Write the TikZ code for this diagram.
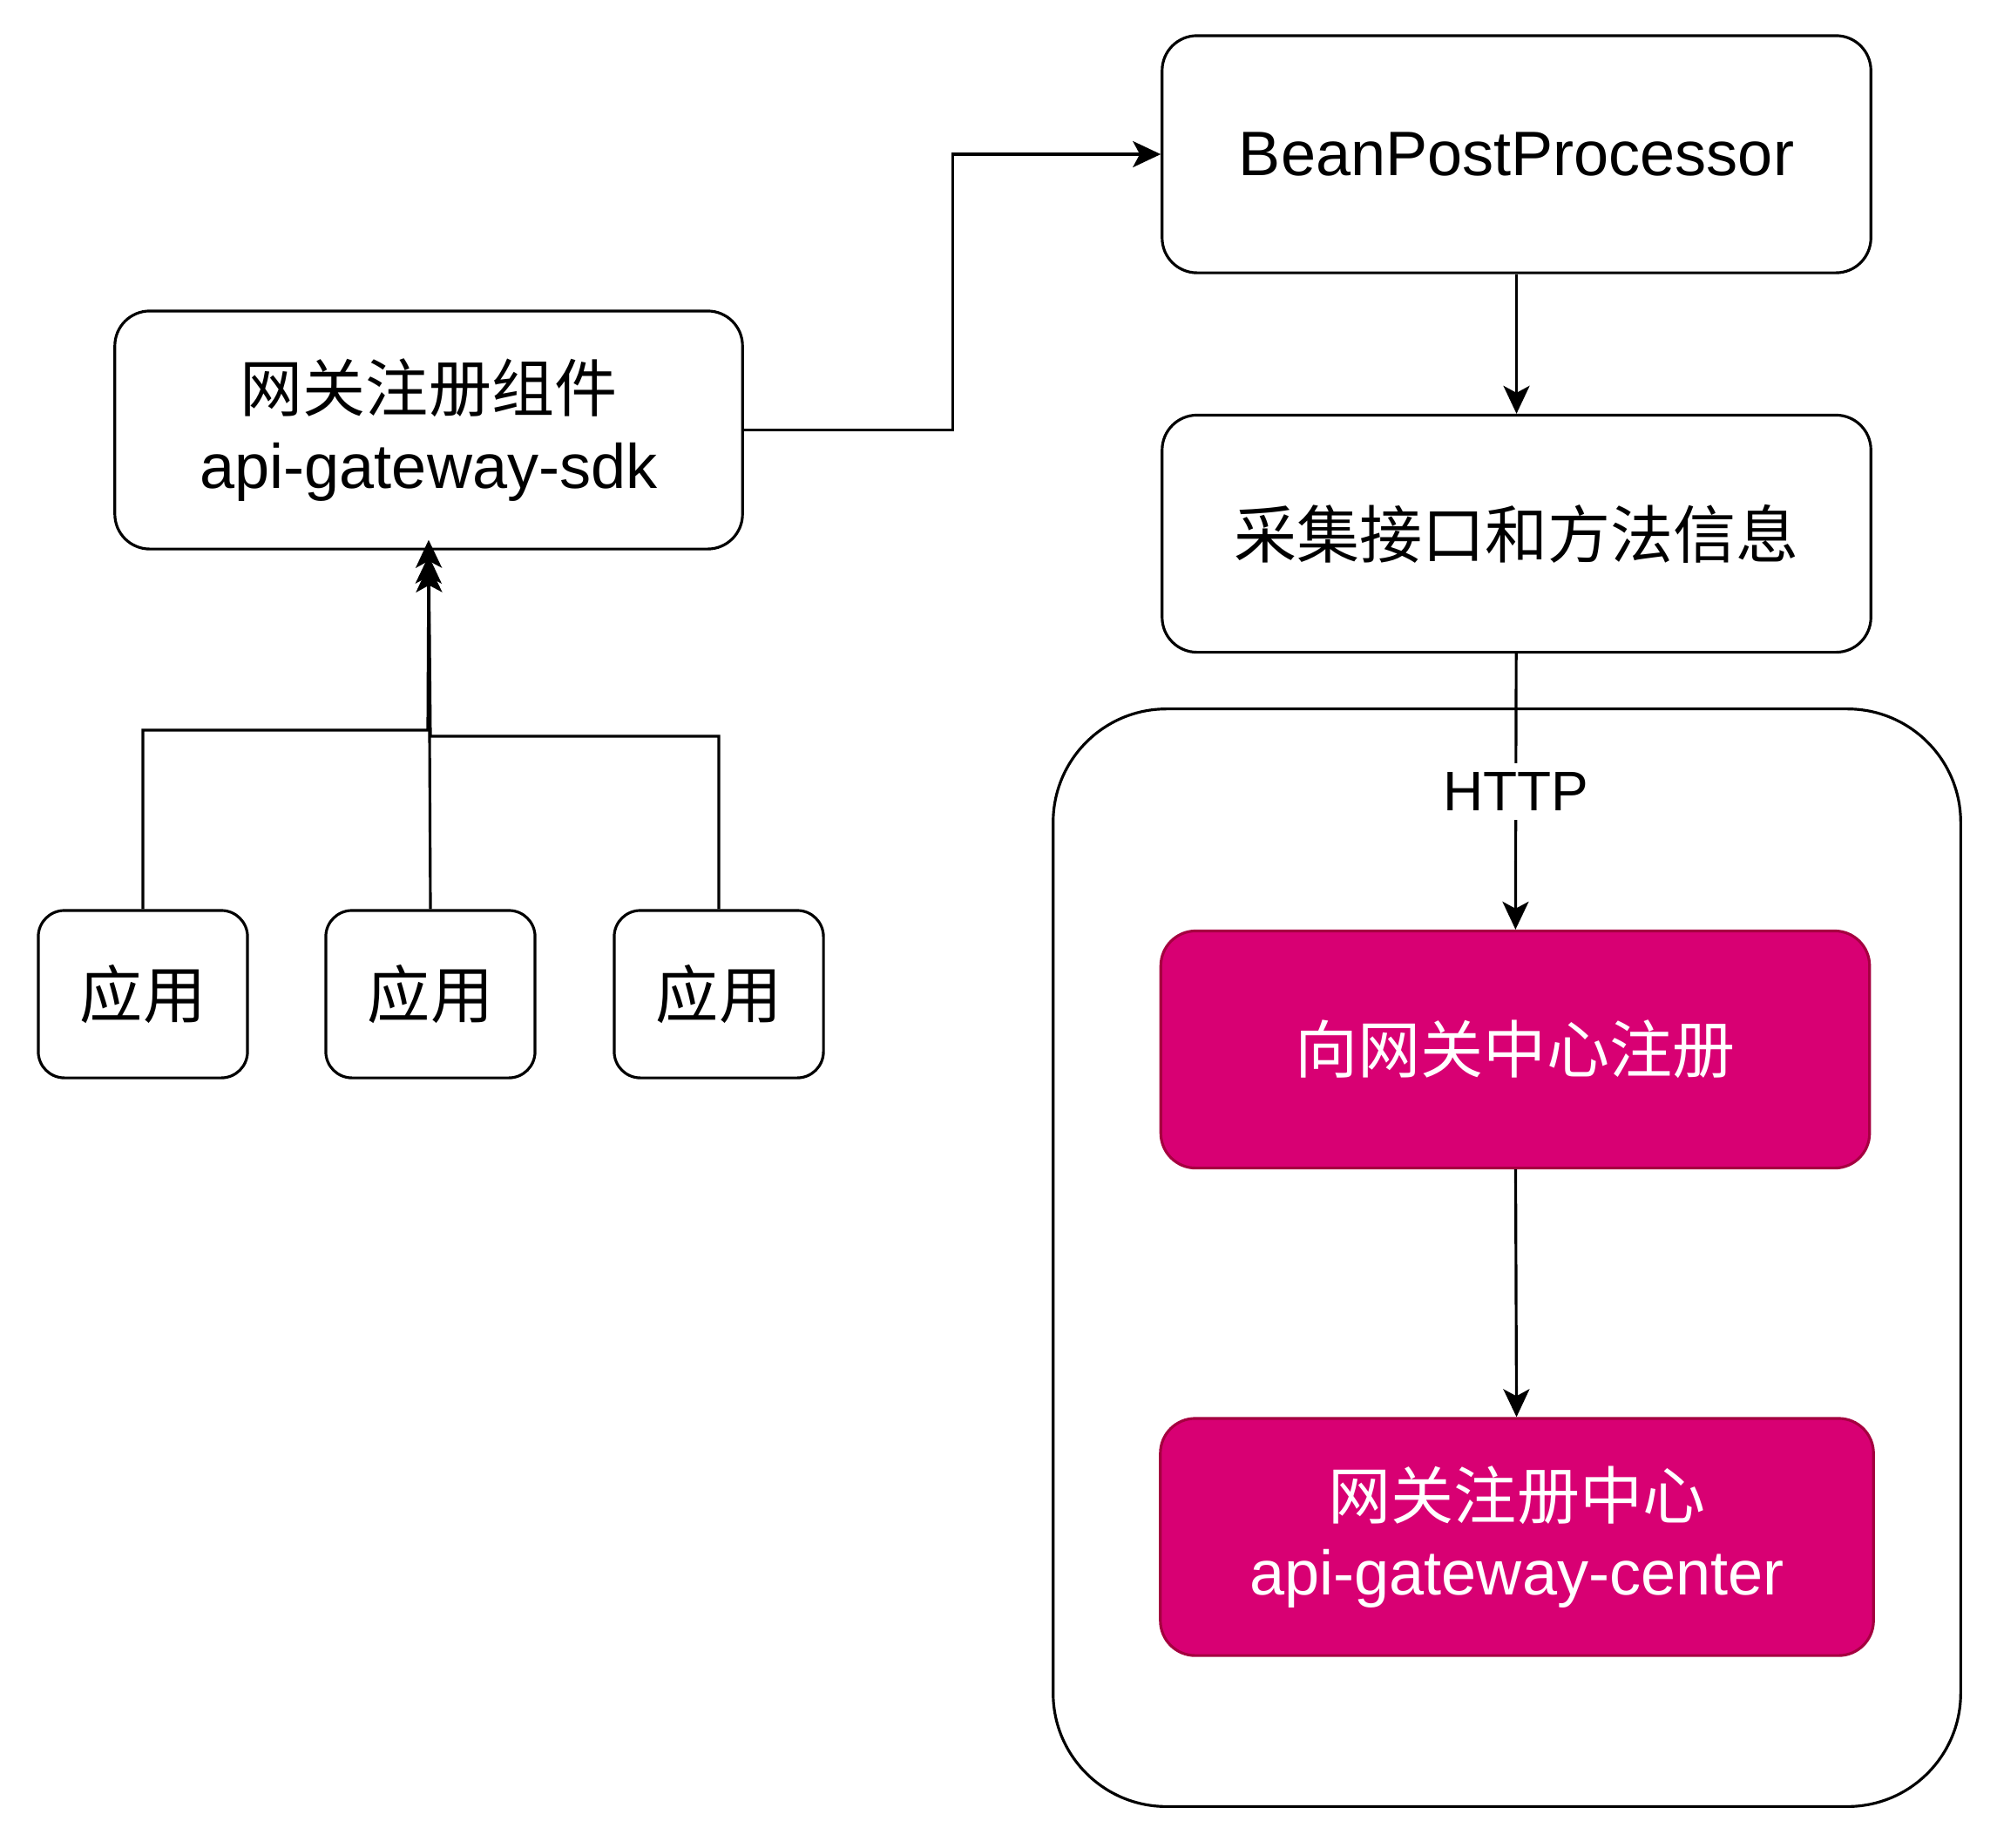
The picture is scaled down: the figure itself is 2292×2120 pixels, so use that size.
\documentclass[tikz,border=0pt]{standalone}
\usepackage{fontspec}
\setmainfont{Liberation Sans}
\newfontfamily\cjk{Noto Sans CJK SC}
\usepackage{xcolor}
\usetikzlibrary{arrows.meta, positioning}
\definecolor{regfill}{HTML}{D80073}
\definecolor{regline}{HTML}{A50040}

\begin{document}
\begin{tikzpicture}[
    x=0.01cm, y=-0.01cm,
    every node/.style={font=\fontsize{20.5}{25}\selectfont},
    box/.style={draw, rounded corners=0.4cm, line width=0.9pt, minimum width=8.13cm, minimum height=2.72cm, align=center, fill=white, inner sep=0pt},
    appbox/.style={box, rounded corners=0.3cm, minimum width=2.4cm, minimum height=1.92cm},
    regbox/.style={box, fill=regfill, draw=regline, text=white},
    zone/.style={draw, line width=0.9pt, rounded corners=1.3cm, minimum width=10.41cm, minimum height=12.59cm},
    arrow/.style={-{Stealth[length=0.32cm, width=0.3cm, inset=0.08cm]}, line width=0.9pt},
]
\useasboundingbox (0,0) rectangle (2292,2120);

% === RIGHT: gateway center zone ===
\node[zone] (zone) at (1729.5,1443.5) {};

\node[box] (bpp) at (1740.5,177) {BeanPostProcessor};
\node[box] (collect) at (1740.5,612.5) {\cjk 采集接口和方法信息};
\node[regbox] (register) at (1739,1204.5) {\cjk 向网关中心注册};
\node[regbox, minimum width=8.18cm] (center) at (1741,1764) {{\cjk 网关注册中心}\\api-gateway-center};

\draw[arrow] (bpp) -- (collect);
\draw[arrow] (collect) -- node[fill=white, inner sep=3pt, font=\fontsize{18.2}{22}\selectfont] {HTTP} (register);
\draw[arrow] (register) -- (center);

% === LEFT: sdk and applications ===
\node[box, minimum width=7.2cm, minimum height=2.73cm] (sdk) at (492,493.5) {{\cjk 网关注册组件}\\api-gateway-sdk};

\node[appbox] (app1) at (164,1141) {\cjk 应用};
\node[appbox] (app2) at (494,1141) {\cjk 应用};
\node[appbox] (app3) at (825,1141) {\cjk 应用};

\draw[arrow, shorten >=0.06cm] (app1.north) |- (491,838) -- (sdk.south);
\draw[arrow, shorten >=-0.12cm] (app2.north) -- (sdk.south);
\draw[arrow, shorten >=0.16cm] (app3.north) |- (494,845) -- (sdk.south);

% === sdk to BeanPostProcessor ===
\draw[arrow] (sdk.east) -- ++(240,0) |- (bpp.west);

\end{tikzpicture}
\end{document}
